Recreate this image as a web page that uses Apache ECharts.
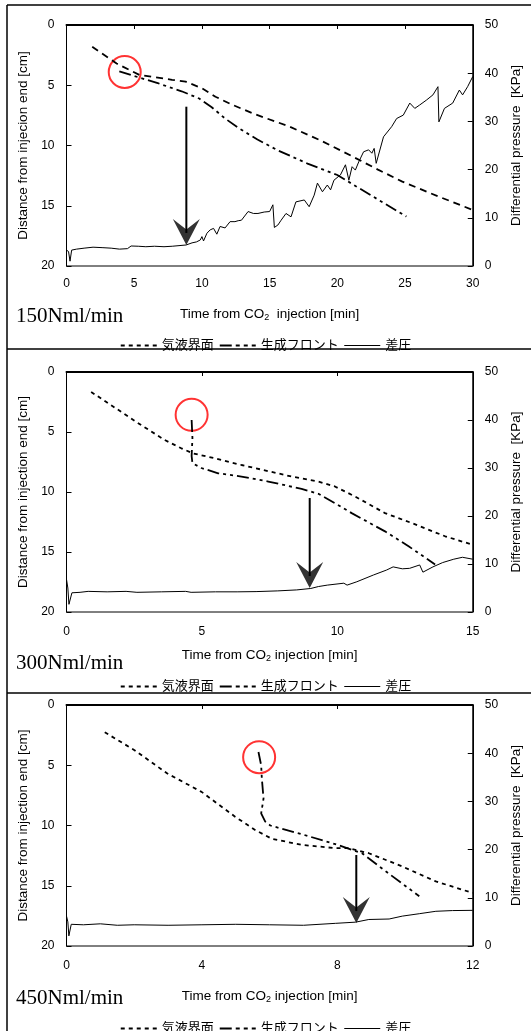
<!DOCTYPE html>
<html lang="ja">
<head>
<meta charset="UTF-8">
<title>CO2 injection</title>
<style>html,body{margin:0;padding:0;background:#fff;}</style>
</head>
<body>
<div id="main" style="width:531px;height:1031px;"></div>
<script src="https://cdn.jsdelivr.net/npm/echarts@6/dist/echarts.min.js"></script>
<script>
// panel captions and axis ranges
var rates = ['150Nml/min', '300Nml/min', '450Nml/min'];
var xMax = [30, 15, 12];
var xStep = [5, 5, 4];
var xNames = ['Time from CO{s|2}  injection [min]', 'Time from CO{s|2} injection [min]', 'Time from CO{s|2} injection [min]'];
var yNames = ['Distance from injecion end [cm]', 'Distance from injection end [cm]', 'Distance from injection end [cm]'];
var names = ['気液界面', '生成フロント', '差圧'];

// 気液界面 [min, cm]
var gasLiquid1 = [[1.9,1.8],[3.7,3.2],[5.4,4.15],[7.8,4.55],[8.8,4.7],[10.0,5.25],[11.0,5.95],[12.2,6.6],[13.9,7.4],[16.4,8.4],[18.8,9.6],[21.1,10.9],[23.0,12.0],[24.8,13.0],[27.4,14.2],[30,15.35]];
var gasLiquid2 = [[0.91,1.66],[1.65,2.77],[2.76,4.43],[3.63,5.67],[4.24,6.36],[4.67,6.78],[5.47,7.19],[6.46,7.75],[8.31,8.71],[9.3,9.13],[9.91,9.54],[10.65,10.37],[11.76,11.76],[12.75,12.59],[13.98,13.69],[15,14.4]];
var gasLiquid3 = [[1.13,2.26],[2.02,3.77],[2.98,5.69],[3.99,7.21],[4.98,9.27],[5.57,10.37],[6.07,11.11],[6.96,11.61],[7.94,11.88],[8.34,11.88],[8.93,12.3],[9.92,13.4],[10.91,14.64],[12.0,15.6]];

// 生成フロント [min, cm]
var front1 = [[3.9,3.85],[4.9,4.2],[6.8,4.85],[8.5,5.5],[9.8,6.1],[10.7,6.8],[11.7,7.75],[12.7,8.55],[14.1,9.5],[15.6,10.4],[17.8,11.5],[20.0,12.45],[21.4,13.4],[25.1,15.9]];
var front2 = [[4.62,4.0],[4.65,5.5],[4.62,7.0],[4.65,7.6],[4.98,8.0],[5.6,8.44],[6.46,8.71],[7.45,9.13],[8.68,9.74],[9.3,10.15],[9.91,10.93],[10.53,11.76],[11.76,13.28],[12.63,14.52],[13.61,16.04]];
var front3 = [[5.67,3.9],[5.75,5.0],[5.77,6.1],[5.82,7.76],[5.75,9.0],[5.87,9.68],[6.02,10.0],[6.96,10.73],[7.94,11.55],[8.73,12.3],[9.43,13.8],[10.42,15.87]];

// 差圧 [min, kPa]
var dp1 = [[0,3.3],[0.15,3.0],[0.26,1.0],[0.3,0.9],[0.38,3.3],[0.74,3.5],[1.3,3.7],[1.96,3.9],[2.69,3.8],[3.3,3.7],[3.91,3.5],[4.5,3.6],[4.77,4.15],[5.3,4.1],[5.86,4.0],[6.5,4.1],[7.2,4.0],[7.81,4.1],[8.83,4.36],[9.27,4.8],[9.6,5.0],[9.88,5.4],[10.0,6.1],[10.12,5.2],[10.37,6.8],[10.61,7.5],[10.86,7.8],[10.98,8.2],[11.1,6.6],[11.22,6.4],[11.34,8.2],[11.71,7.9],[12.08,9.2],[12.19,9.2],[12.44,9.2],[12.68,9.4],[12.92,9.5],[13.41,11.3],[13.8,10.9],[14.14,10.9],[14.6,11.2],[15.0,11.3],[15.24,12.7],[15.35,8.0],[15.41,7.8],[15.61,8.5],[15.85,9.5],[16.21,10.9],[16.58,10.2],[16.94,13.3],[17.56,13.7],[17.92,12.3],[18.29,14.7],[18.53,17.2],[18.9,15.4],[19.26,16.8],[19.5,15.8],[19.75,17.8],[20.23,18.9],[20.6,21.0],[20.85,17.8],[21.09,20.6],[21.33,19.9],[21.58,21.6],[21.94,23.7],[22.31,24.1],[22.55,23.4],[22.72,24.4],[22.87,21.3],[23.41,26.8],[24.01,28.9],[24.38,30.6],[24.87,31.3],[25.35,33.8],[25.72,32.7],[26.08,33.4],[26.57,34.4],[27.06,35.5],[27.43,37.2],[27.5,29.9],[27.91,32.7],[28.52,33.8],[29.01,36.5],[29.25,35.5],[29.62,37.2],[30,39.3]];
var dp2 = [[0,6.8],[0.05,5],[0.09,1.6],[0.15,1.8],[0.2,4.0],[0.5,4.1],[0.8,4.3],[1.5,4.2],[2.2,4.3],[2.6,4.1],[3.5,4.2],[4.4,4.3],[4.6,4.1],[5.5,4.2],[6.3,4.2],[7.0,4.25],[7.8,4.4],[8.5,4.6],[9.02,4.9],[9.3,5.3],[9.63,5.6],[10.24,6.0],[10.36,5.6],[10.72,6.3],[11.33,7.7],[11.82,8.75],[12.06,9.4],[12.4,9.0],[12.67,9.1],[13.04,9.8],[13.16,8.3],[13.53,9.4],[13.89,10.3],[14.3,11.0],[14.62,11.4],[15,11.0]];
var dp3 = [[0,6.2],[0.04,5],[0.07,2.1],[0.12,2.2],[0.14,4.5],[0.5,4.4],[1.0,4.6],[1.5,4.3],[2.0,4.4],[3.0,4.3],[4.0,4.4],[5.0,4.5],[6.0,4.4],[7.0,4.3],[7.94,4.7],[8.54,4.95],[8.93,5.5],[9.53,5.6],[9.92,6.2],[10.42,6.7],[10.91,7.2],[11.4,7.35],[12,7.4]];

// arrows: [min, top cm, tip cm], red circles: [min, cm]
var arrows = [[8.85,6.78,18.26],[8.98,10.5,18.0],[8.56,12.45,18.1]];
var circles = [[4.3,3.9],[4.62,3.57],[5.69,4.33]];

var gasLiquid = [gasLiquid1, gasLiquid2, gasLiquid3];
var front = [front1, front2, front3];
var dp = [dp1, dp2, dp3];

var gridTop = [25, 372, 705];
var gridH = [241, 240, 241];
var xNameGap = [40, 35, 42];
var xLabelMargin = [12, 14, 14];
var legendTop = [334, 675, 1017];
var captionY = [318, 665, 1000];

var sans = "'Liberation Sans', Arial, sans-serif";
var jp = "'Liberation Sans', 'Noto Sans CJK JP', sans-serif";
var dashGL = [[7, 5], [4, 4], [4, 4]];
var dashFront = [12, 4, 3, 4, 3, 4];
var arrowHead = 'path://M0,0 L50,40 L100,0 L50,100 Z';

var grids = [], xAxes = [], yAxes = [], series = [], legends = [], graphics = [];

for (var i = 0; i < 3; i++) {
    grids.push({left: 66.5, top: gridTop[i], width: 410.5, height: gridH[i],
        show: true, borderColor: '#000', borderWidth: 1, backgroundColor: 'transparent'});

    xAxes.push({
        gridIndex: i, type: 'value', min: 0, max: xMax[i], interval: xStep[i],
        name: xNames[i], nameLocation: 'middle', nameGap: xNameGap[i],
        nameTextStyle: {color: '#000', fontFamily: sans, fontSize: 13.5,
            rich: {s: {fontSize: 9, fontFamily: sans, color: '#000', padding: [7, 0, 0, 0]}}},
        axisLine: {lineStyle: {color: '#000', width: 2}},
        axisTick: {inside: false, length: 4, lineStyle: {color: '#000'}},
        axisLabel: {color: '#000', fontFamily: sans, fontSize: 12, margin: xLabelMargin[i]},
        splitLine: {show: false}
    });

    yAxes.push({
        gridIndex: i, type: 'value', position: 'left', inverse: true, min: 0, max: 20, interval: 5,
        name: yNames[i], nameLocation: 'middle', nameRotate: 90, nameGap: 31,
        nameTextStyle: {color: '#000', fontFamily: sans, fontSize: 13.5},
        axisLine: {show: true, lineStyle: {color: '#000', width: 1}},
        axisTick: {inside: true, length: 5, lineStyle: {color: '#000'}},
        axisLabel: {color: '#000', fontFamily: sans, fontSize: 12, margin: 12},
        splitLine: {show: false}
    });
    yAxes.push({
        gridIndex: i, type: 'value', position: 'right', min: 0, max: 50, interval: 10,
        name: 'Differential pressure  [KPa]', nameLocation: 'middle', nameRotate: 90, nameGap: 30,
        nameTextStyle: {color: '#000', fontFamily: sans, fontSize: 13.5},
        axisLine: {show: true, lineStyle: {color: '#000', width: 1}},
        axisTick: {inside: true, length: 5, lineStyle: {color: '#000'}},
        axisLabel: {color: '#000', fontFamily: sans, fontSize: 12, margin: 12},
        splitLine: {show: false}
    });

    series.push({
        name: names[0], type: 'line', xAxisIndex: i, yAxisIndex: 2 * i, symbol: 'none',
        itemStyle: {color: '#000'},
        lineStyle: {color: '#000', width: 1.8, type: dashGL[i]}, data: gasLiquid[i]
    });
    series.push({
        name: names[1], type: 'line', xAxisIndex: i, yAxisIndex: 2 * i, symbol: 'none',
        itemStyle: {color: '#000'},
        lineStyle: {color: '#000', width: 1.8, type: dashFront}, data: front[i]
    });
    series.push({
        name: names[2], type: 'line', xAxisIndex: i, yAxisIndex: 2 * i + 1, symbol: 'none',
        itemStyle: {color: '#000'},
        lineStyle: {color: '#000', width: 1}, data: dp[i]
    });

    // arrow shaft + head
    var a = arrows[i];
    series.push({
        type: 'line', xAxisIndex: i, yAxisIndex: 2 * i, symbol: 'none',
        lineStyle: {color: '#000', width: 2}, data: [[a[0], a[1]], [a[0], a[2] - 1]]
    });
    series.push({
        type: 'scatter', xAxisIndex: i, yAxisIndex: 2 * i, symbol: arrowHead,
        symbolSize: [27, 26], symbolOffset: [0, -13], itemStyle: {color: '#000'},
        data: [[a[0], a[2]]]
    });
    // red circle
    series.push({
        type: 'scatter', xAxisIndex: i, yAxisIndex: 2 * i, symbol: 'circle', symbolSize: 32,
        itemStyle: {color: 'rgba(0,0,0,0)', borderColor: '#ff0000', borderWidth: 2},
        data: [circles[i]]
    });

    legends.push({
        top: legendTop[i], left: 'center', orient: 'horizontal', selectedMode: false,
        itemWidth: 36, itemHeight: 12, itemGap: 5,
        textStyle: {color: '#000', fontFamily: jp, fontSize: 13},
        data: [
            {name: names[0], itemStyle: {opacity: 0}, lineStyle: {type: [4, 4], width: 2, color: '#000'}},
            {name: names[1], itemStyle: {opacity: 0}, lineStyle: {type: [12, 4, 4, 4, 4, 4], width: 2, color: '#000'}},
            {name: names[2], itemStyle: {opacity: 0}, lineStyle: {type: 'solid', width: 1, color: '#000'}}
        ]
    });

    graphics.push({
        type: 'text', left: 16, top: captionY[i] - 12,
        style: {text: rates[i], fill: '#000', font: "21px 'Liberation Serif', 'Times New Roman', serif"}
    });
}

// panel frames
graphics.push({type: 'line', shape: {x1: 7, y1: 5, x2: 7, y2: 1031}, style: {stroke: '#000', lineWidth: 1.5}});
graphics.push({type: 'line', shape: {x1: 7, y1: 5, x2: 531, y2: 5}, style: {stroke: '#000', lineWidth: 1.5}});
graphics.push({type: 'line', shape: {x1: 7, y1: 349, x2: 531, y2: 349}, style: {stroke: '#000', lineWidth: 1.5}});
graphics.push({type: 'line', shape: {x1: 7, y1: 693, x2: 531, y2: 693}, style: {stroke: '#000', lineWidth: 1.5}});

var myChart = echarts.init(document.getElementById('main'));
myChart.setOption({
    animation: false,
    backgroundColor: '#fff',
    grid: grids,
    xAxis: xAxes,
    yAxis: yAxes,
    legend: legends,
    series: series,
    graphic: graphics
});
</script>
</body>
</html>
